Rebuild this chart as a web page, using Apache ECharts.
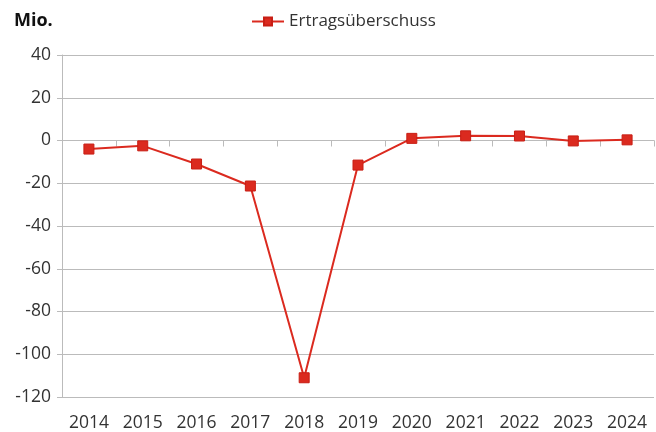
<!DOCTYPE html>
<html>
<head>
<meta charset="utf-8">
<script src="https://cdn.jsdelivr.net/npm/echarts@6/dist/echarts.min.js"></script>
<style>
  html, body { margin: 0; padding: 0; background: #fff; }
  #chart { width: 656px; height: 432px; }
</style>
</head>
<body>
<div id="chart"></div>
<script>
var years = ['2014', '2015', '2016', '2017', '2018', '2019', '2020', '2021', '2022', '2023', '2024'];
var ertrag = [-4, -2.5, -11, -21.3, -111, -11.5, 1, 2.2, 2.1, -0.2, 0.3];
var seriesName = 'Ertragsüberschuss';

var chart = echarts.init(document.getElementById('chart'));

var option = {
  animation: false,
  textStyle: { fontFamily: 'Open Sans' },
  title: {
    text: 'Mio.',
    left: 9,
    top: 7,
    textStyle: { fontSize: 18, fontWeight: 'bold', color: '#111', fontFamily: 'Open Sans' }
  },
  legend: {
    data: [seriesName],
    left: 246,
    top: 8,
    itemWidth: 32,
    itemHeight: 10,
    itemGap: 4,
    textStyle: { fontSize: 17, color: '#333', fontFamily: 'Open Sans' }
  },
  grid: {
    left: 62,
    right: 2,
    top: 55,
    bottom: 34
  },
  xAxis: {
    type: 'category',
    data: years,
    boundaryGap: true,
    axisLine: { lineStyle: { color: '#bbb', width: 1 } },
    axisTick: { show: true, length: 6, lineStyle: { color: '#bbb' } },
    axisLabel: { fontSize: 17.5, color: '#333', margin: 17 }
  },
  yAxis: {
    type: 'value',
    min: -120,
    max: 40,
    interval: 20,
    axisLine: { show: true, lineStyle: { color: '#bbb', width: 1 } },
    axisTick: { show: true, length: 5, lineStyle: { color: '#bbb' } },
    axisLabel: { fontSize: 17.5, color: '#333', margin: 11 },
    splitLine: { lineStyle: { color: '#bbb', width: 1 } }
  },
  series: [{
    name: seriesName,
    type: 'line',
    data: ertrag,
    symbol: 'rect',
    symbolSize: 10,
    itemStyle: { color: '#db2a1f', borderColor: '#c81e14', borderWidth: 1 },
    lineStyle: { color: '#db2a1f', width: 2 }
  }]
};

chart.setOption(option);
</script>
</body>
</html>
